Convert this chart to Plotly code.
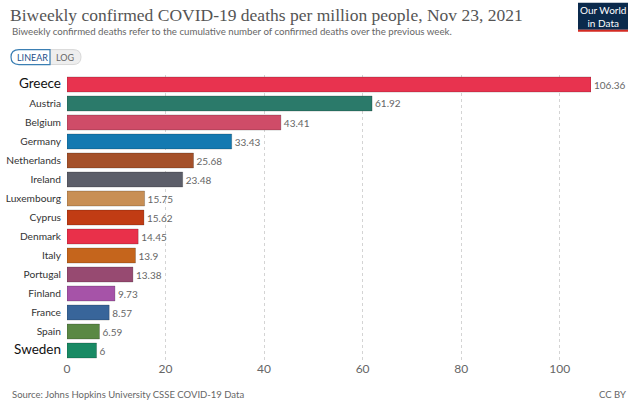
import plotly.graph_objects as go

countries = ["Greece", "Austria", "Belgium", "Germany", "Netherlands", "Ireland", "Luxembourg",
             "Cyprus", "Denmark", "Italy", "Portugal", "Finland", "France", "Spain", "Sweden"]
values = [106.36, 61.92, 43.41, 33.43, 25.68, 23.48, 15.75, 15.62, 14.45, 13.9, 13.38, 9.73, 8.57, 6.59, 6]
value_labels = ["106.36", "61.92", "43.41", "33.43", "25.68", "23.48", "15.75", "15.62", "14.45",
                "13.9", "13.38", "9.73", "8.57", "6.59", "6"]
colors = ["#E8334F", "#2B7A6A", "#CF4C68", "#1479B1", "#A5512A", "#5C5E69", "#C88F55",
          "#C13C14", "#E9304A", "#C5651C", "#974A71", "#A653A8", "#38659A", "#5A8844", "#198A64"]
highlight = {"Greece", "Sweden"}
x_ticks = [0, 20, 40, 60, 80, 100]

W, H = 639, 404
L, R, T, B = 67, 48, 74.5, 43.5
PW, PH = W - L - R, H - T - B

def px(x):
    return (x - L) / PW

def py(y):
    return 1 - (y - T) / PH

def pt(x, y):
    return f"{px(x):.5f},{py(y):.5f}"

ticktext = [f"<span style='font-size:13.5px;color:#111'>{c}</span>" if c in highlight else c for c in countries]

fig = go.Figure(go.Bar(
    y=countries, x=values, orientation="h",
    marker=dict(color=colors, line=dict(color="rgba(0,0,0,0.25)", width=0.8)),
    text=value_labels, textposition="outside", cliponaxis=False,
    textfont=dict(family="Lato", size=10, color="#666"),
    hoverinfo="skip",
))

fig.update_layout(
    width=W, height=H,
    margin=dict(l=L, r=R, t=T, b=B, autoexpand=False),
    paper_bgcolor="white", plot_bgcolor="white",
    bargap=0.21, showlegend=False,
    font=dict(family="Lato", color="#333"),
    xaxis=dict(range=[0, 106.36], tickvals=x_ticks, ticktext=[str(v) for v in x_ticks],
               showgrid=True, gridcolor="#d4d4d4", griddash="dot", gridwidth=1,
               zeroline=False, showline=False, ticks="", automargin=False,
               tickfont=dict(family="Lato", size=12, color="#666"),
               fixedrange=True),
    yaxis=dict(categoryorder="array", categoryarray=countries, autorange="reversed",
               tickvals=countries, ticktext=ticktext, automargin=False,
               tickfont=dict(family="Lato", size=10.2, color="#333"),
               ticks="", showgrid=False, showline=False, ticklabelstandoff=5, fixedrange=True),
)

ann = []
shapes = []
# Title and subtitle
ann.append(dict(text="Biweekly confirmed COVID-19 deaths per million people, Nov 23, 2021",
                x=px(8), y=py(14), xref="paper", yref="paper", xanchor="left", yanchor="middle",
                showarrow=False, font=dict(family="Liberation Serif", size=17.5, color="#555")))
ann.append(dict(text="Biweekly confirmed deaths refer to the cumulative number of confirmed deaths over the previous week.",
                x=px(10), y=py(30), xref="paper", yref="paper", xanchor="left", yanchor="middle",
                showarrow=False, font=dict(family="Lato", size=9.7, color="#666")))
# LINEAR / LOG pill buttons
bt, bb, bm = 49, 64, 56.5
log_path = (f"M {pt(50, bt)} L {pt(73, bt)} Q {pt(81, bt)} {pt(81, bm)} "
            f"Q {pt(81, bb)} {pt(73, bb)} L {pt(50, bb)} Z")
lin_path = (f"M {pt(50, bt)} L {pt(19, bt)} Q {pt(11, bt)} {pt(11, bm)} "
            f"Q {pt(11, bb)} {pt(19, bb)} L {pt(50, bb)} Z")
shapes.append(dict(type="path", xref="paper", yref="paper", path=log_path,
                   line=dict(color="#d8d8d8", width=1), fillcolor="#eeeeee", layer="above"))
shapes.append(dict(type="path", xref="paper", yref="paper", path=lin_path,
                   line=dict(color="#3b7fb3", width=1.2), fillcolor="white", layer="above"))
ann.append(dict(text="LINEAR", x=px(32), y=py(56.5), xref="paper", yref="paper", showarrow=False,
                xanchor="center", yanchor="middle", font=dict(family="Lato", size=9, color="#1d4f88")))
ann.append(dict(text="LOG", x=px(65), y=py(56.5), xref="paper", yref="paper", showarrow=False,
                xanchor="center", yanchor="middle", font=dict(family="Lato", size=9, color="#666")))
# Logo
shapes.append(dict(type="rect", xref="paper", yref="paper", x0=px(578), x1=px(628), y0=py(2), y1=py(29),
                   line=dict(width=0), fillcolor="#0b2a4c", layer="above"))
shapes.append(dict(type="rect", xref="paper", yref="paper", x0=px(578), x1=px(628), y0=py(29), y1=py(31),
                   line=dict(width=0), fillcolor="#d42b23", layer="above"))
ann.append(dict(text="Our World<br>in Data", x=px(603), y=py(15.5), xref="paper", yref="paper",
                showarrow=False, xanchor="center", yanchor="middle",
                font=dict(family="Lato", size=10, color="white")))
# Footer
ann.append(dict(text="Source: Johns Hopkins University CSSE COVID-19 Data", x=px(10), y=py(395),
                xref="paper", yref="paper", xanchor="left", yanchor="middle", showarrow=False,
                font=dict(family="Lato", size=9.5, color="#666")))
ann.append(dict(text="CC BY", x=px(628), y=py(395), xref="paper", yref="paper", xanchor="right",
                yanchor="middle", showarrow=False, font=dict(family="Lato", size=9.5, color="#666")))

fig.update_layout(annotations=ann, shapes=shapes)
fig.write_html("out.html", config={"displayModeBar": False})
